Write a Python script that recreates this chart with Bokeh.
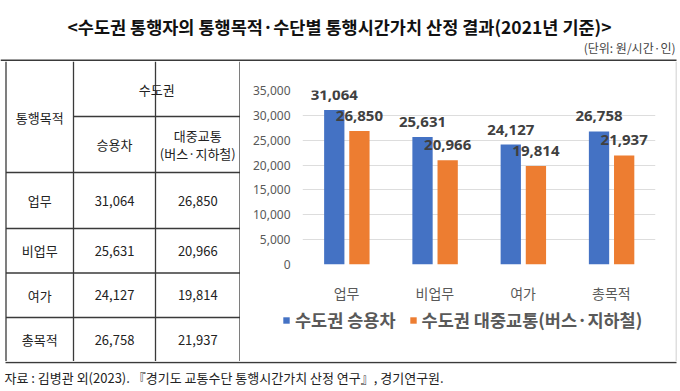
from bokeh.plotting import figure
from bokeh.models import (Range1d, FactorRange, ColumnDataSource, Legend, LegendItem,
                          NumeralTickFormatter, FixedTicker)
from bokeh.layouts import column, row
from bokeh.transform import dodge
from bokeh.core.properties import value
from bokeh.embed import file_html
from bokeh.resources import INLINE

# ---------------- data ----------------
title = "<수도권 통행자의 통행목적·수단별 통행시간가치 산정 결과(2021년 기준)>"
unit_note = "(단위: 원/시간·인)"
source_note = "자료 : 김병관 외(2023). 『경기도 교통수단 통행시간가치 산정 연구』, 경기연구원."
purposes = ["업무", "비업무", "여가", "총목적"]
car = [31064, 25631, 24127, 26758]
transit = [26850, 20966, 19814, 21937]
series_names = ["수도권 승용차", "수도권 대중교통(버스·지하철)"]
series_colors = ["#4472C4", "#ED7D31"]
y_ticks = [0, 5000, 10000, 15000, 20000, 25000, 30000, 35000]
hdr_purpose = "통행목적"
hdr_region = "수도권"
hdr_car = "승용차"
hdr_transit = ["대중교통", "(버스·지하철)"]

KR = "Noto Sans CJK KR"
LINE = "#3a3a3a"

W = 680
TOP_H, MID_H, BOT_H = 61, 300, 30
TAB_W = 240
RB_W = 5
CH_W = W - TAB_W - RB_W
CH_H = 244
LEG_H = MID_H - CH_H


def blank(w, h, x0, x1, y0, y1):
    f = figure(width=w, height=h, x_range=Range1d(x0, x1), y_range=Range1d(y1, y0),
               output_backend="svg", toolbar_location=None, min_border=0,
               x_axis_location=None, y_axis_location=None, frame_align=False)
    f.grid.grid_line_color = None
    f.outline_line_color = None
    f.background_fill_color = "white"
    f.border_fill_color = "white"
    return f


# ---------------- top: title ----------------
pt = blank(W, TOP_H, 0, W, 0, TOP_H)
pt.text(x=[339], y=[26], text=[title], text_align="center", text_baseline="middle",
        text_font=value(KR), text_font_style="bold", text_font_size="17.5px", text_color="#111111")
pt.text(x=[675], y=[47], text=[unit_note], text_align="right", text_baseline="middle",
        text_font=value(KR), text_font_size="12px", text_color="#444444")
pt.segment(x0=[0], y0=[60], x1=[676], y1=[60], line_color=LINE, line_width=2)

# ---------------- table ----------------
y_mid0 = TOP_H
y_mid1 = TOP_H + MID_H
ptab = blank(TAB_W, MID_H, 0, TAB_W, y_mid0, y_mid1)
col_edges = [5.5, 73, 155, 239.5]
row_edges = [61, 172, 228, 272.5, 317, 361]
head_split = 116
ptab.segment(x0=col_edges, y0=[y_mid0] * 4, x1=col_edges, y1=[y_mid1] * 4,
             line_color=LINE, line_width=1.3)
hx0 = [col_edges[1]] + [col_edges[0]] * 4
hy = [head_split] + row_edges[1:5]
ptab.segment(x0=hx0, y0=hy, x1=[col_edges[3]] * 5, y1=hy, line_color=LINE, line_width=1.3)

cx = [(col_edges[i] + col_edges[i + 1]) / 2 for i in range(3)]
tfont = dict(text_font=value(KR), text_font_size="13px", text_color="#222222",
             text_align="center", text_baseline="middle")
ptab.text(x=[cx[0]], y=[(row_edges[0] + row_edges[1]) / 2], text=[hdr_purpose], **tfont)
ptab.text(x=[(col_edges[1] + col_edges[3]) / 2], y=[(row_edges[0] + head_split) / 2],
          text=[hdr_region], **tfont)
ptab.text(x=[cx[1]], y=[(head_split + row_edges[1]) / 2], text=[hdr_car], **tfont)
mid_t = (head_split + row_edges[1]) / 2
ptab.text(x=[cx[2], cx[2]], y=[mid_t - 9, mid_t + 9], text=hdr_transit, **tfont)

row_cy = [(row_edges[i + 1] + row_edges[i + 2]) / 2 for i in range(4)]
tab_src = ColumnDataSource(dict(
    y=row_cy, purpose=purposes,
    car_txt=[f"{v:,}" for v in car], tr_txt=[f"{v:,}" for v in transit],
    x0=[cx[0]] * 4, x1=[cx[1]] * 4, x2=[cx[2]] * 4))
ptab.text(x="x0", y="y", text="purpose", source=tab_src, **tfont)
ptab.text(x="x1", y="y", text="car_txt", source=tab_src, **tfont)
ptab.text(x="x2", y="y", text="tr_txt", source=tab_src, **tfont)

# ---------------- chart ----------------
pc = figure(width=CH_W, height=CH_H, x_range=FactorRange(factors=purposes, range_padding=0),
            y_range=Range1d(0, 35000), output_backend="svg", toolbar_location=None,
            min_border_left=62, min_border_right=20, min_border_top=29, min_border_bottom=40,
            frame_align=False)
pc.outline_line_color = None
src = ColumnDataSource(dict(purpose=purposes, car=car, transit=transit,
                            car_lbl=[f"{v:,}" for v in car],
                            tr_lbl=[f"{v:,}" for v in transit]))
pc.vbar(x=dodge("purpose", -0.14, range=pc.x_range), top="car", width=0.23,
        source=src, fill_color=series_colors[0], line_color=None)
pc.vbar(x=dodge("purpose", 0.145, range=pc.x_range), top="transit", width=0.23,
        source=src, fill_color=series_colors[1], line_color=None)
lbl = dict(text_align="center", text_baseline="bottom", y_offset=-10,
           text_font=value("Noto Sans"), text_font_style="bold", text_font_size="15px",
           text_color="#404040", source=src)
pc.text(x=dodge("purpose", -0.14, range=pc.x_range), y="car", text="car_lbl", **lbl)
pc.text(x=dodge("purpose", 0.145, range=pc.x_range), y="transit", text="tr_lbl", **lbl)

pc.ygrid.grid_line_color = "#DDDDDD"
pc.xgrid.grid_line_color = None
pc.yaxis.ticker = FixedTicker(ticks=y_ticks)
pc.yaxis.formatter = NumeralTickFormatter(format="0,0")
for ax in (pc.xaxis, pc.yaxis):
    ax.axis_line_color = None
    ax.major_tick_line_color = None
    ax.minor_tick_line_color = None
    ax.major_tick_out = 0
    ax.major_tick_in = 0
    ax.major_label_text_color = "#595959"
pc.yaxis.major_label_text_font = "Noto Sans"
pc.yaxis.major_label_text_font_size = "12px"
pc.yaxis.major_label_standoff = 12
pc.xaxis.major_label_text_font = KR
pc.xaxis.major_label_text_font_size = "14px"
pc.xaxis.major_label_standoff = 18

# ---------------- legend strip under the chart ----------------
# legend renderers reuse the real data; categorical x on a numeric range draws nothing here
pleg = blank(CH_W, LEG_H, TAB_W, TAB_W + CH_W, y_mid1 - LEG_H, y_mid1)
lr = [pleg.vbar(x="purpose", top=col, width=1, source=src, fill_color=c, line_color=None)
      for col, c in zip(["car", "transit"], series_colors)]
legend = Legend(items=[LegendItem(label=n, renderers=[r]) for n, r in zip(series_names, lr)],
                orientation="horizontal", location=(42, 29), padding=0, margin=0,
                spacing=13, label_standoff=5, glyph_width=8, glyph_height=8,
                label_height=22,
                label_text_font=KR, label_text_font_style="bold",
                label_text_font_size="17.5px", label_text_color="#595959",
                background_fill_alpha=0, border_line_color=None)
pleg.add_layout(legend)

# right border of the chart box
pr = blank(RB_W, MID_H, 0, RB_W, y_mid0, y_mid1)
pr.segment(x0=[0.5], y0=[y_mid0], x1=[0.5], y1=[y_mid1], line_color="#BFBFBF", line_width=1)

# ---------------- bottom: source ----------------
y_bot0 = y_mid1
y_bot1 = y_bot0 + BOT_H
pb = blank(W, BOT_H, 0, W, y_bot0, y_bot1)
pb.segment(x0=[col_edges[0] - 0.5], y0=[362], x1=[676], y1=[362], line_color=LINE, line_width=1.5)
pb.text(x=[4], y=[377], text=[source_note], text_align="left", text_baseline="middle",
        text_font=value(KR), text_font_size="13px", text_color="#222222")

layout = column(pt, row(ptab, column(pc, pleg), pr), pb)
open("out.html", "w").write(file_html(layout, INLINE))
